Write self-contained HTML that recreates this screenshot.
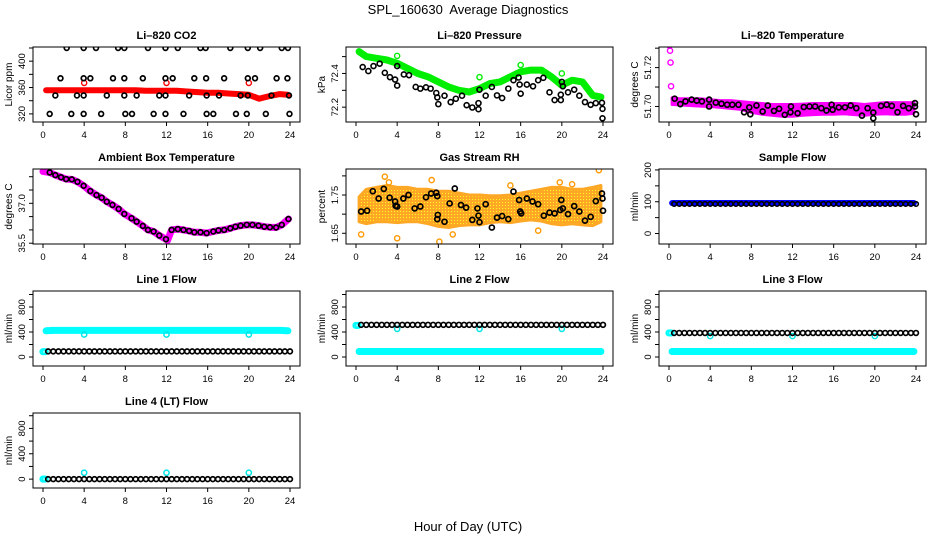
<!DOCTYPE html>
<html><head><meta charset="utf-8"><title>SPL_160630 Average Diagnostics</title>
<style>
html,body{margin:0;padding:0;background:#fff;}
svg{display:block;font-family:"Liberation Sans",Arial,sans-serif;}
</style></head>
<body>
<svg id="chart" width="936" height="540" viewBox="0 0 936 540" xmlns="http://www.w3.org/2000/svg">
<defs>
<pattern id="rhdots" width="3" height="3" patternUnits="userSpaceOnUse">
<rect width="3" height="3" fill="#ff9900"/><rect x="1" y="1" width="1" height="1" fill="#ffff00"/>
</pattern>
</defs>
<text x="468" y="14" font-size="13" text-anchor="middle" xml:space="preserve" style="white-space:pre">SPL_160630  Average Diagnostics</text>
<text x="468" y="531" font-size="13" text-anchor="middle">Hour of Day (UTC)</text>
</svg>
<script>
// ---------------- data ----------------
const xTicks = [0,4,8,12,16,20,24];
const halfHours = [0.5,1,1.5,2,2.5,3,3.5,4,4.5,5,5.5,6,6.5,7,7.5,8,8.5,9,9.5,10,10.5,11,11.5,12,12.5,13,13.5,14,14.5,15,15.5,16,16.5,17,17.5,18,18.5,19,19.5,20,20.5,21,21.5,22,22.5,23,23.5,24];
const hourly = [0.3,1,2,3,4,5,6,7,8,9,10,11,12,13,14,15,16,17,18,19,20,21,22,23,23.8];

// CO2
const co2BandVals = [356,356,356,356,356,356,356,356,356,356,355,355,355,355,354,353,352,352,351,350,349,343,347,350,349];
const co2PtHours = [2.3,3.95,5.15,7.3,7.9,10.2,11.9,13.1,15.3,15.8,18.2,19.9,21.1,23.2,23.8, 1.7,3.95,4.6,6.8,7.9,9.7,11.9,12.6,14.7,15.85,17.6,19.9,20.6,22.7,23.75, 1.2,3.3,3.95,6.2,7.9,9.1,11.3,11.9,14.2,15.9,17.1,19.2,19.9,22.2,23.9, 0.65,2.75,3.95,5.65,8,8.65,10.75,11.9,13.65,15.9,16.55,18.75,19.8,21.65,23.95];
const co2PtVals = [420,420,420,420,420,420,420,420,420,420,420,420,420,420,420, 374,374,374,374,374,374,374,374,374,374,374,374,374,374,374, 348,348,348,348,348,348,348,348,348,348,348,348,348,348,348, 320,320,320,320,320,320,320,320,320,320,320,320,320,320,320];
const co2OutHours = [4,12,20];
const co2OutVals = [367,367,367];

// Pressure
const presBandVals = [72.53,72.50,72.49,72.48,72.46,72.43,72.40,72.38,72.35,72.32,72.30,72.29,72.31,72.34,72.35,72.38,72.41,72.42,72.42,72.38,72.33,72.36,72.35,72.27,72.26];
const presPtHours = [0.65,1.2,1.7,2.3,2.8,3.3,3.8,4.0,4.0,4.65,5.15,5.8,6.25,6.8,7.25,7.8,7.9,8.0,8.6,9.2,9.7,10.3,10.75,11.3,11.9,11.9,12,12.6,13.2,13.7,14.2,14.8,15.3,15.8,15.9,16.0,16.6,17.2,17.7,18.2,18.8,19.3,19.9,19.9,20,20.1,20.6,21.2,21.7,22.25,22.8,23.3,23.9,23.95,23.95];
const presPtVals = [72.438,72.414,72.444,72.458,72.404,72.378,72.364,72.328,72.444,72.394,72.39,72.32,72.31,72.318,72.31,72.284,72.258,72.218,72.268,72.23,72.25,72.268,72.212,72.198,72.188,72.224,72.304,72.268,72.32,72.27,72.254,72.31,72.36,72.376,72.334,72.28,72.334,72.324,72.36,72.374,72.288,72.242,72.242,72.274,72.35,72.324,72.288,72.304,72.268,72.23,72.214,72.224,72.226,72.19,72.134];
const presOutHours = [4,12,16,20];
const presOutVals = [72.504,72.378,72.45,72.40];

// Li-820 temperature
const tempBandHi = [51.7045,51.7040,51.7040,51.7040,51.7035,51.7030,51.7030,51.7025,51.7020,51.7015,51.7010,51.7010,51.7010,51.7012,51.7015,51.7015,51.7015,51.7015,51.7015,51.7010,51.7015,51.7020,51.7020,51.7020,51.7020];
const tempBandLo = [51.7010,51.7008,51.7005,51.7002,51.7000,51.6995,51.6990,51.6985,51.6970,51.6960,51.6955,51.6950,51.6950,51.6955,51.6958,51.6960,51.6960,51.6962,51.6958,51.6955,51.6960,51.6962,51.6960,51.6960,51.6965];
const tempOutHours = [0.05,0.1,0.15,0.2];
const tempOutVals = [51.7313,51.7287,51.7226,51.7104];
const tempPtHours = [0.55,1.1,1.6,2.2,2.7,3.2,3.9,3.9,4.55,5.1,5.65,6.15,6.75,7.3,7.8,7.9,8.5,9.1,9.6,10.2,10.7,11.25,11.8,11.85,12.5,13.1,13.65,14.2,14.8,15.3,15.8,15.9,16.5,17.1,17.65,18.2,18.75,19.3,19.85,19.85,20.6,21.15,21.65,22.2,22.75,23.3,23.9,24,23.9];
const tempPtVals = [51.704,51.7012,51.7026,51.7035,51.703,51.7026,51.7035,51.70,51.702,51.7014,51.7009,51.7009,51.7009,51.697,51.6995,51.696,51.7005,51.6974,51.7005,51.6977,51.6988,51.6957,51.697,51.70,51.6965,51.6997,51.70,51.70,51.6991,51.6979,51.7009,51.6983,51.6995,51.6995,51.7005,51.6991,51.6953,51.6991,51.6969,51.6939,51.7003,51.7009,51.7003,51.697,51.7003,51.6991,51.7017,51.696,51.70];

// Ambient box temperature
const ambLineHours = [0,0.65,1.2,1.75,2.25,2.8,3.35,3.95,4.6,5.2,5.7,6.2,6.75,7.35,7.9,8.6,9.1,9.7,10.2,10.75,11.3,11.95,12.1,12.5,13.1,13.65,14.2,14.7,15.3,15.9,16.55,17.05,17.6,18.2,18.7,19.2,19.8,20.35,20.95,21.5,22.05,22.65,23.2,23.85];
const ambLineVals = [38.2,38.16,38.06,37.98,37.91,37.9,37.81,37.66,37.46,37.31,37.21,37.06,36.94,36.79,36.6,36.44,36.31,36.15,36.0,35.94,35.79,35.65,35.6,36.0,36.03,36.0,35.96,35.91,35.91,35.88,35.94,35.98,36.0,36.06,36.12,36.16,36.19,36.19,36.16,36.12,36.1,36.09,36.19,36.41];
const ambPtHours = [0.65,1.2,1.75,2.25,2.8,3.35,3.95,4.6,5.2,5.7,6.2,6.75,7.35,7.9,8.6,9.1,9.7,10.2,10.75,11.3,11.95,12.5,13.1,13.65,14.2,14.7,15.3,15.9,16.55,17.05,17.6,18.2,18.7,19.2,19.8,20.35,20.95,21.5,22.05,22.65,23.2,23.85];
const ambPtVals = [38.16,38.06,37.98,37.91,37.9,37.81,37.66,37.46,37.31,37.21,37.06,36.94,36.79,36.6,36.44,36.31,36.15,36.0,35.94,35.79,35.65,36.0,36.03,36.0,35.96,35.91,35.91,35.88,35.94,35.98,36.0,36.06,36.12,36.16,36.19,36.19,36.16,36.12,36.1,36.09,36.19,36.41];

// Gas stream RH
const rhBandHi = [1.745,1.765,1.770,1.775,1.770,1.770,1.765,1.765,1.760,1.760,1.755,1.750,1.750,1.748,1.748,1.750,1.755,1.760,1.765,1.770,1.770,1.765,1.765,1.770,1.775];
const rhBandLo = [1.680,1.675,1.680,1.680,1.678,1.680,1.680,1.675,1.668,1.665,1.670,1.672,1.672,1.678,1.680,1.678,1.682,1.685,1.682,1.675,1.672,1.675,1.672,1.670,1.680];
const rhOutHours = [2.8,7.35,4.0,0.5,8.1,19.8,23.6,9.4,17.7,3.2,15.0,21.0];
const rhOutVals = [1.798,1.789,1.637,1.647,1.628,1.783,1.815,1.647,1.657,1.783,1.775,1.778];
const rhPtHours = [0.5,1.08,1.63,2.2,2.7,3.27,3.8,3.85,4.0,4.6,5.1,5.7,6.25,6.8,7.3,7.8,7.9,7.95,7.9,8.6,9.1,9.6,10.2,10.7,11.3,11.8,11.9,12.0,12.6,13.2,13.7,14.2,14.8,15.3,15.85,15.95,16.05,16.6,17.15,17.7,18.25,18.8,19.3,19.85,19.95,20.1,20.6,21.2,21.7,22.25,22.8,23.3,23.9,23.95,24];
const rhPtVals = [1.707,1.709,1.760,1.741,1.766,1.743,1.733,1.722,1.72,1.741,1.75,1.715,1.72,1.744,1.754,1.756,1.747,1.698,1.687,1.68,1.728,1.767,1.724,1.717,1.685,1.715,1.696,1.679,1.726,1.665,1.691,1.695,1.687,1.759,1.737,1.707,1.702,1.741,1.733,1.726,1.696,1.704,1.702,1.711,1.737,1.715,1.7,1.721,1.707,1.683,1.693,1.734,1.754,1.741,1.709];

// Sample flow
const sampleBandVals = [96,96,96,96,96,96,96,96,96,96,96,96,96,96,96,96,96,96,96,96,96,96,96,96,96];
const samplePtVals = [93,93,93,93,93,93,93,93,93,93,93,93,93,93,93,93,93,93,93,93,93,93,93,93,93,93,93,93,93,93,93,93,93,93,93,93,93,93,93,93,93,93,93,93,93,93,93,93];

// Line flows
const line1CyanVals = [420,425,425,425,425,425,425,425,425,425,425,425,425,425,425,425,425,425,425,425,425,425,425,425,420];
const line1PtVals = [90,90,90,90,90,90,90,90,90,90,90,90,90,90,90,90,90,90,90,90,90,90,90,90,90,90,90,90,90,90,90,90,90,90,90,90,90,90,90,90,90,90,90,90,90,90,90,90];
const line1StartHours = [0,0.2];
const line1StartVals = [85,85];
const line1DipHours = [4,12,20];
const line1DipVals = [360,360,360];

const line2CyanVals = [88,88,88,88,88,88,88,88,88,88,88,88,88,88,88,88,88,88,88,88,88,88,88,88,88];
const line2PtVals = [515,515,515,515,515,515,515,515,515,515,515,515,515,515,515,515,515,515,515,515,515,515,515,515,515,515,515,515,515,515,515,515,515,515,515,515,515,515,515,515,515,515,515,515,515,515,515,515];
const line2StartHours = [0,0.2];
const line2StartVals = [505,505];
const line2DipHours = [4,12,20];
const line2DipVals = [450,450,450];

const line3CyanVals = [88,88,88,88,88,88,88,88,88,88,88,88,88,88,88,88,88,88,88,88,88,88,88,88,88];
const line3PtVals = [385,385,385,385,385,385,385,385,385,385,385,385,385,385,385,385,385,385,385,385,385,385,385,385,385,385,385,385,385,385,385,385,385,385,385,385,385,385,385,385,385,385,385,385,385,385,385,385];
const line3StartHours = [0,0.2];
const line3StartVals = [385,385];
const line3DipHours = [4,12,20];
const line3DipVals = [335,335,335];

const line4PtVals = [0,0,0,0,0,0,0,0,0,0,0,0,0,0,0,0,0,0,0,0,0,0,0,0,0,0,0,0,0,0,0,0,0,0,0,0,0,0,0,0,0,0,0,0,0,0,0,0];
const line4StartHours = [0,0.2];
const line4StartVals = [0,0];
const line4DipHours = [4,12,20];
const line4DipVals = [100,100,100];

// ---------------- drawing ----------------
const NS = 'http://www.w3.org/2000/svg';
const svg = document.getElementById('chart');
function mk(tag, attrs, parent){
  const e = document.createElementNS(NS, tag);
  for (const k in attrs) e.setAttribute(k, attrs[k]);
  (parent||svg).appendChild(e);
  return e;
}
const colLeft = [33,346,659];
const rowTop = [47,169,291,413];
const BW = 267, BH = 75;

function panel(name, col, row, title, ytitle, ymin, ymax, yTicks, yLabels){
  const L = colLeft[col], T = rowTop[row];
  const g = mk('g', {});
  
  
  const sx = h => L + 10 + h / 24 * (BW - 20);
  const sy = v => T + BH - (v - ymin) / (ymax - ymin) * BH;
  const t = mk('text', {x: L + BW/2, y: T - 8, 'font-size': 11, 'font-weight': 'bold', 'text-anchor': 'middle'}, g);
  t.textContent = title;
  
  
  const plot = mk('g', {}, g);
  
  
  const clipId = 'clip-' + name;
  const cp = mk('clipPath', {id: clipId}, g);
  mk('rect', {x: L, y: T, width: BW, height: BH}, cp);
  plot.setAttribute('clip-path', 'url(#' + clipId + ')');
  const box = mk('rect', {x: L, y: T, width: BW, height: BH, fill: 'none', stroke: '#000', 'stroke-width': 1}, g);
  
  
  const xa = mk('g', {}, g);
  
  
  xTicks.forEach(h => {
    mk('line', {x1: sx(h), x2: sx(h), y1: T + BH, y2: T + BH + 4, stroke: '#000'}, xa);
    const lb = mk('text', {x: sx(h), y: T + BH + 16, 'font-size': 9.5, 'text-anchor': 'middle'}, xa);
    lb.textContent = h;
    
    
  });
  const ya = mk('g', {}, g);
  
  
  yTicks.forEach(v => {
    mk('line', {x1: L, x2: L - 4, y1: sy(v), y2: sy(v), stroke: '#000'}, ya);
  });
  yLabels.forEach(v => {
    const lb = mk('text', {x: L - 8, y: sy(v), 'font-size': 9.5, 'text-anchor': 'middle', transform: 'rotate(-90 ' + (L - 8) + ' ' + sy(v) + ')'}, ya);
    lb.textContent = v;
    
    
  });
  const yt = mk('text', {x: L - 21, y: T + BH/2, 'font-size': 10, 'text-anchor': 'middle', transform: 'rotate(-90 ' + (L - 21) + ' ' + (T + BH/2) + ')'}, g);
  yt.textContent = ytitle;
  
  
  return {sx, sy, plot};
}
function pts(p, hours, vals, color, sw, r, name){
  const g = mk('g', {}, p.plot);
  
  
  hours.forEach((h, i) => {
    const c = mk('circle', {cx: p.sx(h), cy: p.sy(vals[i]), r: r || 2.6, fill: 'none', stroke: color, 'stroke-width': sw || 1.4}, g);
    
    
  });
}
function band(p, hours, vals, color, w, name){
  const d = hours.map((h, i) => (i ? 'L' : 'M') + p.sx(h).toFixed(1) + ' ' + p.sy(vals[i]).toFixed(1)).join(' ');
  const e = mk('path', {d: d, fill: 'none', stroke: color, 'stroke-width': w, 'stroke-linejoin': 'round', 'stroke-linecap': 'round'}, p.plot);
  
  
}
function area(p, hours, hi, lo, fill, name, op){
  let d = hours.map((h, i) => (i ? 'L' : 'M') + p.sx(h).toFixed(1) + ' ' + p.sy(hi[i]).toFixed(1)).join(' ');
  for (let i = hours.length - 1; i >= 0; i--) d += ' L' + p.sx(hours[i]).toFixed(1) + ' ' + p.sy(lo[i]).toFixed(1);
  const e = mk('path', {d: d + ' Z', fill: fill, stroke: fill === 'url(#rhdots)' ? '#ff9900' : fill, 'stroke-width': 3, 'stroke-linejoin': 'round', opacity: op || 1}, p.plot);
  
  
}

// Panel 1: CO2
let p = panel('co2', 0, 0, 'Li\u2013820 CO2', 'Licor ppm', 307.7, 421.5, [320,340,360,380,400,420], [320,360,400]);
band(p, hourly, co2BandVals, '#ff0000', 6, 'co2-red-band');
pts(p, co2OutHours, co2OutVals, '#ff0000', 1.4, 2.6, 'co2-red-outliers');
pts(p, co2PtHours, co2PtVals, '#000', 1.7, 2.4, 'co2-black-points');

// Panel 2: Pressure
p = panel('pressure', 1, 0, 'Li\u2013820 Pressure', 'kPa', 72.112, 72.557, [72.2,72.3,72.4,72.5], [72.2,72.4]);
band(p, hourly, presBandVals, '#00ee00', 7, 'pressure-green-band');
pts(p, presOutHours, presOutVals, '#00ee00', 1.4, 2.6, 'pressure-green-outliers');
pts(p, presPtHours, presPtVals, '#000', 1.6, 2.5, 'pressure-black-points');

// Panel 3: Temperature
p = panel('li820-temp', 2, 0, 'Li\u2013820 Temperature', 'degrees C', 51.692, 51.7306, [51.70,51.71,51.72,51.73], ['51.70','51.72']);
area(p, hourly, tempBandHi, tempBandLo, '#ff00ff', 'li820-temp-magenta-band');
pts(p, tempOutHours, tempOutVals, '#ff00ff', 1.4, 2.6, 'li820-temp-magenta-outliers');
pts(p, tempPtHours, tempPtVals, '#000', 1.7, 2.5, 'li820-temp-black-points');

// Panel 4: Ambient
p = panel('ambient-temp', 0, 1, 'Ambient Box Temperature', 'degrees C', 35.47, 38.29, [35.5,36,36.5,37,37.5,38], ['35.5','37.0']);
band(p, ambLineHours, ambLineVals, '#ff00ff', 7, 'ambient-magenta-line');
pts(p, ambPtHours, ambPtVals, '#000', 1.7, 2.4, 'ambient-black-points');

// Panel 5: RH
p = panel('rh', 1, 1, 'Gas Stream RH', 'percent', 1.622, 1.818, [1.65,1.70,1.75,1.80], ['1.65','1.75']);
area(p, hourly, rhBandHi, rhBandLo, 'url(#rhdots)', 'rh-orange-cloud', 0.85);
pts(p, rhOutHours, rhOutVals, '#ff9900', 1.4, 2.6, 'rh-orange-outliers');
pts(p, rhPtHours, rhPtVals, '#000', 1.7, 2.5, 'rh-black-points');

// Panel 6: Sample flow
p = panel('sample-flow', 2, 1, 'Sample Flow', 'ml/min', -33, 203, [0,50,100,150,200], [0,100,200]);
band(p, hourly, sampleBandVals, '#0000ff', 6, 'sample-flow-blue-band');
pts(p, halfHours, samplePtVals, '#000', 1.6, 2.3, 'sample-flow-black-points');

// Flow panels
const flowTicks = [0,200,400,600,800,1000], flowLabels = [0,400,800];
p = panel('line1-flow', 0, 2, 'Line 1 Flow', 'ml/min', -144, 1056, flowTicks, flowLabels);
band(p, hourly, line1CyanVals, '#00ffff', 7, 'line1-cyan-band');
pts(p, line1StartHours, line1StartVals, '#00ffff', 2, 2.6, 'line1-cyan-start');
pts(p, line1DipHours, line1DipVals, '#00e5e5', 1.5, 2.6, 'line1-cyan-dips');
pts(p, halfHours, line1PtVals, '#000', 1.7, 2.4, 'line1-black-points');

p = panel('line2-flow', 1, 2, 'Line 2 Flow', 'ml/min', -144, 1056, flowTicks, flowLabels);
band(p, hourly, line2CyanVals, '#00ffff', 7, 'line2-cyan-band');
pts(p, line2StartHours, line2StartVals, '#00ffff', 2, 2.6, 'line2-cyan-start');
pts(p, line2DipHours, line2DipVals, '#00e5e5', 1.5, 2.6, 'line2-cyan-dips');
pts(p, halfHours, line2PtVals, '#000', 1.7, 2.4, 'line2-black-points');

p = panel('line3-flow', 2, 2, 'Line 3 Flow', 'ml/min', -144, 1056, flowTicks, flowLabels);
band(p, hourly, line3CyanVals, '#00ffff', 7, 'line3-cyan-band');
pts(p, line3StartHours, line3StartVals, '#00ffff', 2, 2.6, 'line3-cyan-start');
pts(p, line3DipHours, line3DipVals, '#00e5e5', 1.5, 2.6, 'line3-cyan-dips');
pts(p, halfHours, line3PtVals, '#000', 1.7, 2.4, 'line3-black-points');

p = panel('line4-flow', 0, 3, 'Line 4 (LT) Flow', 'ml/min', -140, 1043, flowTicks, flowLabels);
pts(p, line4StartHours, line4StartVals, '#00ffff', 2, 2.6, 'line4-cyan-start');
pts(p, line4DipHours, line4DipVals, '#00e5e5', 1.5, 2.6, 'line4-cyan-dips');
pts(p, halfHours, line4PtVals, '#000', 1.7, 2.4, 'line4-black-points');
</script>
</body></html>
